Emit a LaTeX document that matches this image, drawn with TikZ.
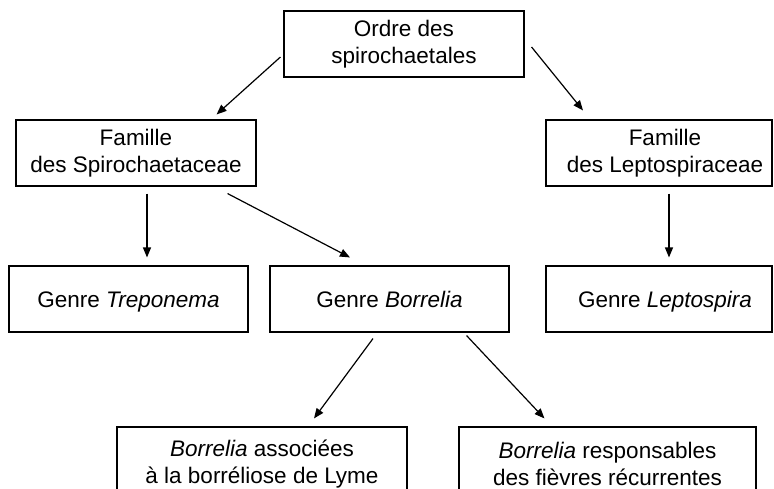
\documentclass[tikz,border=0pt]{standalone}
\usepackage{fontspec}
\setmainfont{Liberation Sans}
\usetikzlibrary{arrows.meta}

\begin{document}
\begin{tikzpicture}[x=1pt,y=-1pt,
  box/.style={draw, line width=1.1pt, inner sep=0pt, align=center,
    font=\fontsize{22.5}{27}\selectfont},
  onebox/.style={box, text height=16pt, text depth=0pt},
  arr/.style={line width=1.2pt, -{Triangle[length=10pt,width=8pt]}}]
  \useasboundingbox (0,0) rectangle (774,489);
  \clip (0,0) rectangle (774,489);
  \fill[white] (0,0) rectangle (774,489);

  % order
  \node[box, minimum width=240pt, minimum height=66pt] (ordre) at (404,44)
    {Ordre des\\spirochaetales};

  % families
  \node[box, minimum width=240pt, minimum height=66pt] (spiro) at (136,153)
    {Famille\\des Spirochaetaceae};
  \node[box, minimum width=226pt, minimum height=66pt] (lepto) at (659,153)
    {\hspace*{12pt}Famille\\\hspace*{12pt}des Leptospiraceae};

  % genera
  \node[onebox, minimum width=239pt, minimum height=66pt] (trep) at (128.5,299)
    {Genre \textit{Treponema}};
  \node[onebox, minimum width=239pt, minimum height=66pt] (borr) at (389.5,299)
    {Genre \textit{Borrelia}};
  \node[onebox, minimum width=226pt, minimum height=66pt] (lspira) at (659,299)
    {\hspace*{12pt}Genre \textit{Leptospira}};

  % Borrelia groups
  \node[box, minimum width=290pt, minimum height=74pt] (lyme) at (262,464)
    {\textit{Borrelia} associées\\à la borréliose de Lyme};
  \node[box, minimum width=297pt, minimum height=74pt] (fievre) at (607.5,464)
    {\textit{Borrelia} responsables\\des fièvres récurrentes};

  % connectors
  \draw[arr] ([shift={(-3,13)}]ordre.west) -- ([shift={(-40,-5)}]spiro.north east);
  \draw[arr] ([shift={(7,3)}]ordre.east) -- ([shift={(-76,-9)}]lepto.north);
  \draw[arr] ([shift={(11,7)}]spiro.south) -- ([shift={(18.5,-8)}]trep.north);
  \draw[arr] ([shift={(-29,7)}]spiro.south east) -- ([shift={(-39.5,-8)}]borr.north);
  \draw[arr] ([shift={(10,7)}]lepto.south) -- ([shift={(10,-8)}]lspira.north);
  \draw[arr] ([shift={(-16.5,6)}]borr.south) -- ([shift={(52,-8)}]lyme.north);
  \draw[arr] ([shift={(-43,3)}]borr.south east) -- ([shift={(86,-8)}]fievre.north west);
\end{tikzpicture}
\end{document}
